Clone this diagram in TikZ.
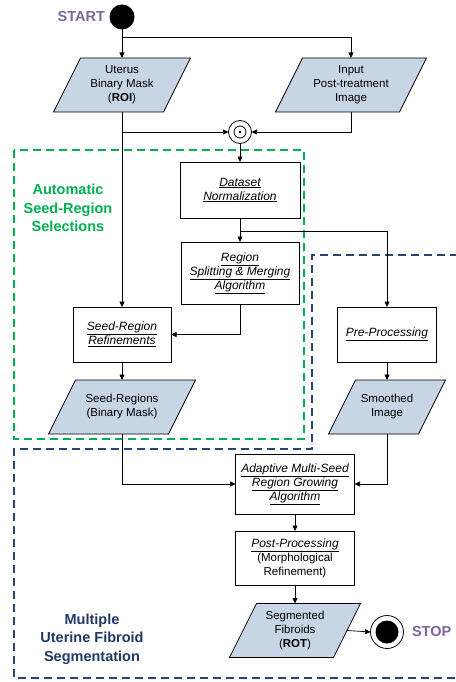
\documentclass[tikz,border=0pt]{standalone}
\usepackage{fontspec}
\setmainfont{Liberation Sans}
\usetikzlibrary{arrows.meta}

\definecolor{iofill}{HTML}{C8D5E5}
\definecolor{grpgreen}{HTML}{00B050}
\definecolor{grpnavy}{HTML}{2A4470}
\definecolor{lblnavy}{HTML}{203864}
\definecolor{termpurple}{HTML}{8064A2}

% data (parallelogram) block: name, centre x, centre y, side length, text
\newcommand\iodata[5]{%
  \draw[io] ({#2-#4/2+13.5},{#3-27}) -- ({#2+#4/2+13.5},{#3-27})
        -- ({#2+#4/2-13.5},{#3+27}) -- ({#2-#4/2-13.5},{#3+27}) -- cycle;
  \node[iotext, minimum width=#4] (#1) at (#2,#3) {#5};}

% italic underlined step title
\newcommand\steptitle[1]{\fontsize{12}{14}\selectfont\itshape\underline{#1}}

\begin{document}
\begin{tikzpicture}[x=1pt,y=-1pt,
  every node/.style={inner sep=0pt, outer sep=0pt},
  arr/.style={-{Triangle[length=5.5pt,width=5pt]}, line width=0.7pt},
  boxfont/.style={font=\fontsize{11.5}{14}\selectfont},
  proc/.style={draw, line width=0.8pt, align=center, boxfont},
  iotext/.style={align=center, boxfont, minimum height=54},
  io/.style={fill=iofill, draw, line width=0.8pt},
  grp/.style={dash pattern=on 8pt off 5pt, line width=1.3pt},
  grplabel/.style={align=center, font=\fontsize{14.5}{18.5}\selectfont\bfseries},
  term/.style={text=termpurple, font=\fontsize{14.5}{17}\selectfont\bfseries}]

\useasboundingbox (0,0) rectangle (455,682);

% group frames
\draw[grp, grpgreen] (14,150) rectangle (304,439);
\draw[grp, grpnavy] (458,255) -- (312,255) -- (312,449) -- (14,449) -- (14,678) -- (458,678);
\node[grplabel, text=grpgreen] (lblseed) at (68,208) {Automatic\\Seed-Region\\Selections};
\node[grplabel, text=lblnavy] (lblseg) at (92,639) {Multiple\\Uterine Fibroid\\Segmentation};

% terminals
\node[circle, fill=black, minimum size=25] (start) at (122,17) {};
\node[term, anchor=east] (starttxt) at (105,17) {START};
\node[circle, draw, line width=0.8pt, minimum size=33] (stop) at (387,632) {};
\fill (stop.center) circle (11.5);
\node[term, anchor=west] (stoptxt) at (412,632) {STOP};

% inputs
\iodata{uterus}{122}{85}{110}{Uterus\\Binary Mask\\(\textbf{ROI})}
\iodata{input}{351}{85}{124}{Input\\Post-treatment\\Image}

% element-wise product
\node[circle, draw, line width=0.8pt, minimum size=23] (odot) at (240,132) {};
\draw[line width=0.8pt] (odot.center) circle (6);
\fill (odot.center) circle (1.4);

% processing blocks
\node[proc, minimum width=120, minimum height=56] (norm) at (240,190)
  {\steptitle{Dataset}\\\steptitle{Normalization}};
\node[proc, minimum width=118, minimum height=62] (split) at (240,273)
  {\steptitle{Region}\\\steptitle{Splitting \& Merging}\\\steptitle{Algorithm}};
\node[proc, minimum width=98, minimum height=55] (refine) at (122,334.5)
  {\steptitle{Seed-Region}\\\steptitle{Refinements}};
\node[proc, minimum width=99, minimum height=55] (pre) at (387,334.5)
  {\steptitle{Pre-Processing}};
\iodata{seeds}{122}{407}{120}{Seed-Regions\\(Binary Mask)}
\iodata{smooth}{387}{407}{90}{Smoothed\\Image}
\node[proc, minimum width=119, minimum height=60] (grow) at (295,484)
  {\steptitle{Adaptive Multi-Seed}\\\steptitle{Region Growing}\\\steptitle{Algorithm}};
\node[proc, minimum width=119, minimum height=54] (post) at (295,558)
  {\steptitle{Post-Processing}\\(Morphological\\Refinement)};
\iodata{seg}{295}{630.5}{104}{Segmented\\Fibroids\\(\textbf{ROT})}

% junction points
\coordinate (j1) at (122,37);
\coordinate (j2) at (240,231);

% connectors
\draw[arr] (start) -- (uterus);
\draw[arr] (j1) -| (input.north);
\draw[arr] (uterus.south) |- (odot.west);
\draw[arr] (input.south) |- (odot.east);
\draw[arr] (uterus.south) -- (refine.north);
\draw[arr] (odot) -- (norm);
\draw[arr] (norm) -- (split);
\draw[arr] (j2) -| (pre.north);
\draw[arr] (split.south) |- (refine.east);
\draw[arr] (refine) -- (seeds);
\draw[arr] (pre) -- (smooth);
\draw[arr] (seeds.south) |- (grow.west);
\draw[arr] (smooth.south) |- (grow.east);
\draw[arr] (grow) -- (post);
\draw[arr] (post) -- (seg);
\draw[arr] (seg.east) -- (stop.west);

\end{tikzpicture}
\end{document}
